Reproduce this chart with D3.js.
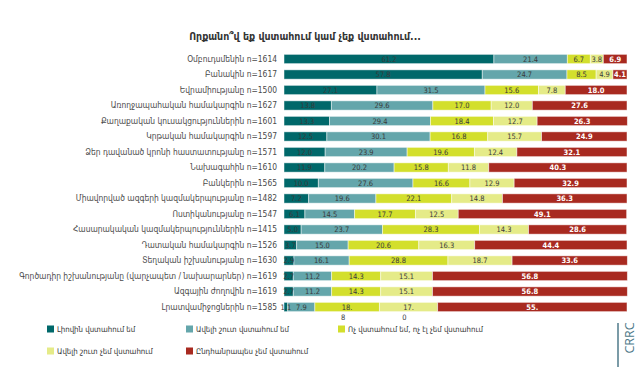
<!DOCTYPE html>
<html><head><meta charset="utf-8">
<script src="https://cdn.jsdelivr.net/npm/d3@7"></script>
<style>
html,body{margin:0;padding:0;background:#fff;}
svg{display:block;font-family:"DejaVu Sans Condensed","DejaVu Sans",sans-serif;}
</style></head>
<body>
<svg id="chart" width="640" height="367"></svg>
<script>
const title = "Որքանո՞վ եք վստահում կամ չեք վստահում...";
const categories = [
  "Օմբուդսմենին n=1614",
  "Բանակին n=1617",
  "Եվրամիությանը n=1500",
  "Առողջապահական համակարգին n=1627",
  "Քաղաքական կուսակցություններին n=1601",
  "Կրթական համակարգին n=1597",
  "Ձեր դավանած կրոնի հաստատությանը n=1571",
  "Նախագահին n=1610",
  "Բանկերին n=1565",
  "Միավորված ազգերի կազմակերպությանը n=1482",
  "Ոստիկանությանը n=1547",
  "Հասարակական կազմակերպություններին n=1415",
  "Դատական համակարգին n=1526",
  "Տեղական իշխանությանը n=1630",
  "Գործադիր իշխանությանը (վարչապետ / նախարարներ) n=1619",
  "Ազգային ժողովին n=1619",
  "Լրատվամիջոցներին n=1585"
];
const seriesNames = [
  "Լիովին վստահում եմ",
  "Ավելի շուտ վստահում եմ",
  "Ոչ վստահում եմ, ոչ էլ չեմ վստահում",
  "Ավելի շուտ չեմ վստահում",
  "Ընդհանրապես չեմ վստահում"
];
const fullyTrust    = [61.2,57.8,27.1,13.8,13.3,12.5,12.0,11.9,10.0,7.2,6.1,5.0,3.7,2.9,2.7,2.7,1.1];
const ratherTrust   = [21.4,24.7,31.5,29.6,29.4,30.1,23.9,20.2,27.6,19.6,14.5,23.7,15.0,16.1,11.2,11.2,7.9];
const neither       = [6.7,8.5,15.6,17.0,18.4,16.8,19.6,15.8,16.6,22.1,17.7,28.3,20.6,28.8,14.3,14.3,18.8];
const ratherDistrust= [3.8,4.9,7.8,12.0,12.7,15.7,12.4,11.8,12.9,14.8,12.5,14.3,16.3,18.7,15.1,15.1,17.0];
const fullyDistrust = [6.9,4.1,18.0,27.6,26.3,24.9,32.1,40.3,32.9,36.3,49.1,28.6,44.4,33.6,56.8,56.8,55.2];
const colors = ["#00686a","#64a6ab","#d3df2c","#e5eb88","#a82a20"];
const labelColors = ["#3a3a3a","#3a3a3a","#3a3a3a","#3a3a3a","#ffffff"];

const series = [fullyTrust, ratherTrust, neither, ratherDistrust, fullyDistrust];

const svg = d3.select("#chart");
const x = d3.scaleLinear().domain([0,100]).range([284,627]);
const y = d3.scaleBand().domain(categories).range([51.25,314.75]).paddingInner(0.4).paddingOuter(0.2);

svg.append("text").attr("x",305).attr("y",40).attr("text-anchor","middle")
  .attr("font-size",10.5).attr("font-weight","bold").attr("fill","#333").text(title);

// category labels
svg.append("g").selectAll("text").data(categories).join("text")
  .attr("x",277).attr("y",d=>y(d)+y.bandwidth()/2).attr("dy","0.35em")
  .attr("text-anchor","end").attr("font-size",8.4).attr("fill","#4a4a4a").text(d=>d);

// segments
const rows = categories.map((c,i)=>{
  let acc=0;
  return series.map((s,k)=>{const v=s[i]; const o={cat:c,k,v,x0:acc,x1:acc+v,row:i}; acc+=v; return o;});
});
const segs = rows.flat();
const g = svg.append("g");
g.selectAll("rect").data(segs).join("rect")
  .attr("x",d=>x(d.x0)).attr("y",d=>y(d.cat))
  .attr("width",d=>Math.max(0,x(d.x1)-x(d.x0))).attr("height",y.bandwidth())
  .attr("fill",d=>colors[d.k]).attr("stroke","#ffffff").attr("stroke-opacity",0.6).attr("stroke-width",0.8);

function fmt(v){return v.toFixed(1);}
const last = categories.length-1;
g.selectAll("text.v").data(segs).join("text").attr("class","v")
  .attr("x",d=>(x(d.x0)+x(d.x1))/2).attr("y",d=>y(d.cat)+y.bandwidth()/2).attr("dy","0.35em")
  .attr("text-anchor","middle").attr("font-size",7.5).attr("fill",d=>labelColors[d.k])
  .attr("font-weight",d=>d.k===4?"bold":"normal")
  .text(d=>{const s=fmt(d.v); return (d.row===last && d.k>=2)? s.slice(0,-1) : s;});
// wrapped final digits on last row (as in reference)
g.selectAll("text.w").data(segs.filter(d=>d.row===last && d.k>=2)).join("text").attr("class","w")
  .attr("x",d=>(x(d.x0)+x(d.x1))/2 - 4).attr("y",d=>y(d.cat)+y.bandwidth()/2+10).attr("dy","0.35em")
  .attr("text-anchor","middle").attr("font-size",7.5).attr("fill",d=>labelColors[d.k])
  .text(d=>fmt(d.v).slice(-1));

// legend
const legendPos = [[47,329],[186,329],[338,329],[47,351],[186,351]];
const lg = svg.append("g").selectAll("g").data(seriesNames).join("g")
  .attr("transform",(d,i)=>`translate(${legendPos[i][0]},${legendPos[i][1]})`);
lg.append("rect").attr("x",0).attr("y",-3.5).attr("width",7).attr("height",7).attr("fill",(d,i)=>colors[i]);
lg.append("text").attr("x",10).attr("y",0).attr("dy","0.35em").attr("font-size",7.8).attr("fill","#333").text(d=>d);

// CRRC mark
svg.append("line").attr("x1",618).attr("x2",618).attr("y1",323).attr("y2",367).attr("stroke","#4f7a8a").attr("stroke-width",1.5);
svg.append("text").attr("transform","translate(634,338) rotate(-90)").attr("text-anchor","middle")
  .attr("font-size",12.5).attr("fill","#4f7a8a").attr("font-family","Open Sans, sans-serif").text("CRRC");
</script>
</body></html>
